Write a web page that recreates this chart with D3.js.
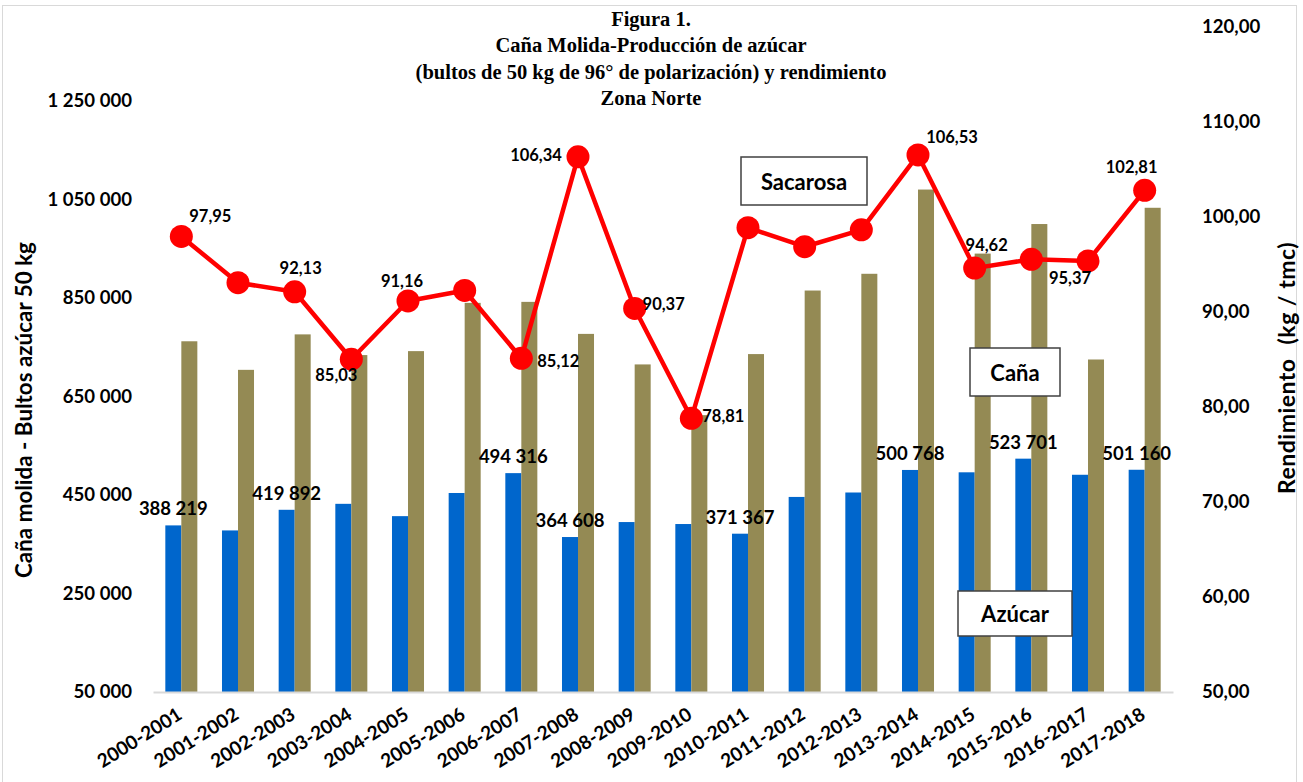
<!DOCTYPE html>
<meta charset="utf-8">
<style>
    body { margin: 0; background: #fff; }
    text { font-family: Lato, "Open Sans", sans-serif; font-weight: bold; fill: #000; }
    .title text { font-family: "Liberation Serif", "Times New Roman", serif; font-size: 20.5px; }
    .axis text { font-size: 18.6px; }
    .axis .domain { stroke: none; }
    .xaxis .domain { stroke: #D9D9D9; stroke-width: 2; }
    .axis.xaxis text { font-size: 19px; }
    .barlabel { font-size: 18.5px; }
    .linelabel { font-size: 16.5px; }
    .axtitle { font-size: 22.4px; }
    .axtitle.right { font-size: 23px; letter-spacing: 0.5px; }
    .note rect { fill: #fff; stroke: #404040; stroke-width: 1.5; }
    .note text { font-size: 22px; }
</style>
<body>
<script src="https://cdn.jsdelivr.net/npm/d3@7"></script>
<script>

    var categories = ["2000-2001", "2001-2002", "2002-2003", "2003-2004", "2004-2005", "2005-2006",
        "2006-2007", "2007-2008", "2008-2009", "2009-2010", "2010-2011", "2011-2012",
        "2012-2013", "2013-2014", "2014-2015", "2015-2016", "2016-2017", "2017-2018"];

    // Azúcar (bultos 50 kg)
    var azucar = [388219, 378000, 419892, 432000, 407000, 454000, 494316, 364608, 395000,
        391000, 371367, 446000, 455000, 500768, 496000, 523701, 491000, 501160];

    // Caña molida
    var cana = [762000, 704000, 776000, 734000, 742000, 840000, 842000, 777000, 715000,
        612000, 736000, 865000, 899000, 1070000, 940000, 1000000, 725000, 1033000];

    // Sacarosa - rendimiento (kg / tmc)
    var sacarosa = [97.95, 93.08, 92.13, 85.03, 91.16, 92.27, 85.12, 106.34, 90.37,
        78.81, 98.88, 96.87, 98.65, 106.53, 94.62, 95.55, 95.37, 102.81];

    var leftTicks = [50000, 250000, 450000, 650000, 850000, 1050000, 1250000];
    var rightTicks = [50, 60, 70, 80, 90, 100, 110, 120];

    // which points carry a data label
    var azucarLabeled = [0, 2, 6, 7, 10, 13, 15, 17];
    var sacarosaLabeled = [0, 2, 3, 4, 6, 7, 8, 9, 13, 14, 16, 17];
    // hand-placed label offsets from the marker (dx, dy)
    var sacarosaLabelOffset = {0: [29, -20], 2: [6, -24], 3: [-15, 16], 4: [-6, -20], 6: [37, 3],
        7: [-42, -2], 8: [29, -4], 9: [32, -2], 13: [34, -18], 14: [12, -23], 16: [-18, 17], 17: [-13, -23]};

    var titleLines = ["Figura 1.", "Caña Molida-Producción de azúcar",
        "(bultos de 50 kg de 96° de polarización) y rendimiento", "Zona Norte"];

    var notes = [
        {text: "Sacarosa", x: 741, y: 157, w: 126, h: 48},
        {text: "Caña", x: 970, y: 348, w: 90, h: 48},
        {text: "Azúcar", x: 958, y: 591, w: 114, h: 45}
    ];

    var W = 1303, H = 782;
    var plot = {left: 153, right: 1173, top: 27, bottom: 692};

    var locale = d3.formatLocale({decimal: ",", thousands: " ", grouping: [3], currency: ["", ""]});
    var fmtInt = locale.format(",d"),
        fmtDec = locale.format(",.2f");

    var svg = d3.select("body").append("svg")
            .attr("width", W)
            .attr("height", H);

    svg.append("rect").attr("width", W).attr("height", H).attr("fill", "#fff");
    svg.append("rect")
            .attr("x", 2.5).attr("y", 5.5)
            .attr("width", 1294).attr("height", 800)
            .attr("fill", "none").attr("stroke", "#D9D9D9");

    var x = d3.scaleBand()
            .domain(categories)
            .range([plot.left, plot.right])
            .paddingInner(0.435)
            .paddingOuter(0.2175);

    var x1 = d3.scaleBand()
            .domain(["azucar", "cana"])
            .range([0, x.bandwidth()]);

    var yL = d3.scaleLinear().domain([50000, 1400000]).range([plot.bottom, plot.top]);
    var yR = d3.scaleLinear().domain([50, 120]).range([plot.bottom, plot.top]);

    // title
    svg.append("g").attr("class", "title")
            .selectAll("text").data(titleLines).enter()
            .append("text")
            .attr("x", 651)
            .attr("y", function(d, i) { return 26 + i * 26.3; })
            .attr("text-anchor", "middle")
            .text(function(d) { return d; });

    // bars
    var rows = categories.map(function(c, i) { return {cat: c, azucar: azucar[i], cana: cana[i], i: i}; });

    var groups = svg.append("g").selectAll("g.cat").data(rows).enter()
            .append("g")
            .attr("class", "cat")
            .attr("transform", function(d) { return "translate(" + x(d.cat) + ",0)"; });

    groups.append("rect")
            .attr("x", x1("azucar"))
            .attr("y", function(d) { return yL(d.azucar); })
            .attr("width", x1.bandwidth())
            .attr("height", function(d) { return yL(50000) - yL(d.azucar); })
            .attr("fill", "#0066CC");

    groups.append("rect")
            .attr("x", x1("cana"))
            .attr("y", function(d) { return yL(d.cana); })
            .attr("width", x1.bandwidth())
            .attr("height", function(d) { return yL(50000) - yL(d.cana); })
            .attr("fill", "#948A54");

    // axes
    var xAxis = svg.append("g").attr("class", "axis xaxis")
            .attr("transform", "translate(0," + plot.bottom + ")")
            .call(d3.axisBottom(x).tickSize(0).tickPadding(0));
    xAxis.selectAll(".tick text")
            .attr("text-anchor", "end")
            .attr("dy", null)
            .attr("y", 0)
            .attr("transform", "translate(2,26) rotate(-32)");

    svg.append("g").attr("class", "axis")
            .attr("transform", "translate(" + plot.left + ",0)")
            .call(d3.axisLeft(yL).tickValues(leftTicks).tickSize(0).tickPadding(21).tickFormat(fmtInt));

    svg.append("g").attr("class", "axis")
            .attr("transform", "translate(" + plot.right + ",0)")
            .call(d3.axisRight(yR).tickValues(rightTicks).tickSize(0).tickPadding(29).tickFormat(fmtDec));

    // axis titles
    svg.append("text").attr("class", "axtitle")
            .attr("transform", "translate(32,410) rotate(-90)")
            .attr("text-anchor", "middle")
            .text("Caña molida - Bultos azúcar 50 kg");

    var rt = svg.append("text").attr("class", "axtitle right")
            .attr("transform", "translate(1295,368) rotate(-90)")
            .attr("text-anchor", "middle");
    rt.append("tspan").text("Rendimiento");
    rt.append("tspan").attr("dx", 14).text("(kg / tmc)");

    // azúcar labels
    svg.append("g").selectAll("text").data(azucarLabeled).enter()
            .append("text")
            .attr("class", "barlabel")
            .attr("x", function(i) { return x(categories[i]) + x1("azucar") + x1.bandwidth() / 2; })
            .attr("y", function(i) { return yL(azucar[i]) - 10; })
            .attr("text-anchor", "middle")
            .text(function(i) { return fmtInt(azucar[i]); });

    // sacarosa line
    var cx = function(d, i) { return x(categories[i]) + x.bandwidth() / 2; };

    svg.append("path")
            .datum(sacarosa)
            .attr("fill", "none")
            .attr("stroke", "#FF0000")
            .attr("stroke-width", 4.5)
            .attr("stroke-linejoin", "round")
            .attr("d", d3.line().x(cx).y(function(d) { return yR(d); }));

    svg.append("g").selectAll("circle").data(sacarosa).enter()
            .append("circle")
            .attr("cx", cx)
            .attr("cy", function(d) { return yR(d); })
            .attr("r", 11.5)
            .attr("fill", "#FF0000");

    svg.append("g").selectAll("text").data(sacarosaLabeled).enter()
            .append("text")
            .attr("class", "linelabel")
            .attr("x", function(i) { return cx(null, i) + sacarosaLabelOffset[i][0]; })
            .attr("y", function(i) { return yR(sacarosa[i]) + sacarosaLabelOffset[i][1]; })
            .attr("text-anchor", "middle")
            .attr("dominant-baseline", "central")
            .text(function(i) { return fmtDec(sacarosa[i]); });

    // text boxes
    var note = svg.append("g").attr("class", "note").selectAll("g").data(notes).enter().append("g");
    note.append("rect")
            .attr("x", function(d) { return d.x; })
            .attr("y", function(d) { return d.y; })
            .attr("width", function(d) { return d.w; })
            .attr("height", function(d) { return d.h; });
    note.append("text")
            .attr("x", function(d) { return d.x + d.w / 2; })
            .attr("y", function(d) { return d.y + d.h / 2; })
            .attr("text-anchor", "middle")
            .attr("dominant-baseline", "central")
            .text(function(d) { return d.text; });

</script>
